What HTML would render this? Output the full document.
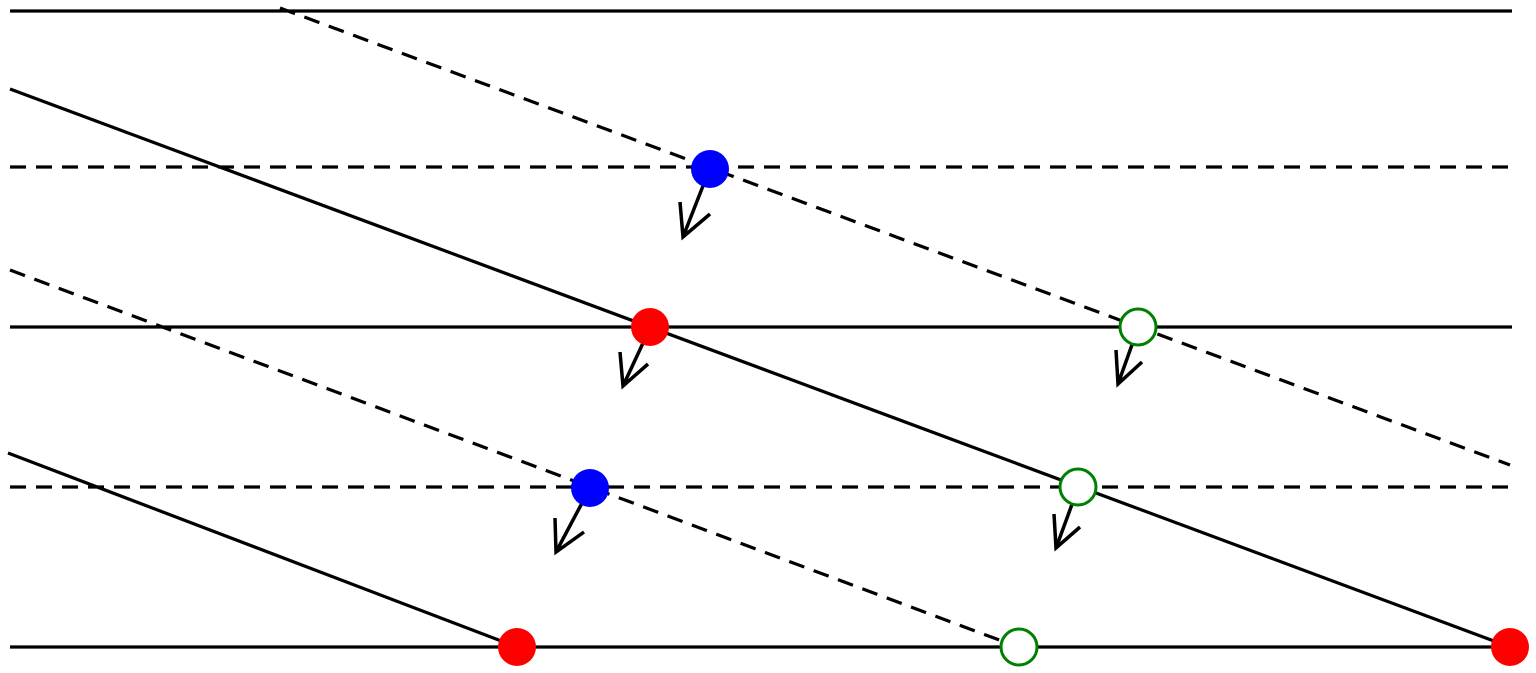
<!DOCTYPE html>
<html><head><style>body{margin:0;background:#fff}svg{display:block}</style></head><body>
<svg width="1536" height="673" viewBox="0 0 1536 673" xmlns="http://www.w3.org/2000/svg">
<g stroke="#000" stroke-width="3.2" fill="none">
<line x1="10" y1="11" x2="1512" y2="11"/>
<line x1="10" y1="327" x2="1512" y2="327"/>
<line x1="10" y1="647" x2="1512" y2="647"/>
<line x1="10" y1="89" x2="1510" y2="647"/>
<line x1="8" y1="453" x2="517" y2="647"/>
<g stroke-dasharray="16,10">
<line x1="10" y1="167" x2="1512" y2="167"/>
<line x1="10" y1="487" x2="1512" y2="487"/>
<line x1="280" y1="8" x2="1510" y2="465"/>
<line x1="10" y1="270" x2="1018" y2="647"/>
</g>
<g stroke-width="3.5">
<path d="M710,168 L683,237 M680,202 L683,237 L710,214"/>
<path d="M650,328 L623,386 M620,352 L623,386 L648,364"/>
<path d="M1138,328 L1118,384 M1116,350 L1118,384 L1142,362"/>
<path d="M590,488 L556,552 M555,518 L556,552 L584,532"/>
<path d="M1078,488 L1056,548 M1054,514 L1056,548 L1080,527"/>
</g>
</g>
<circle cx="710" cy="169" r="19" fill="#0000ff"/>
<circle cx="590" cy="488" r="19" fill="#0000ff"/>
<circle cx="650" cy="327" r="19" fill="#ff0000"/>
<circle cx="517" cy="647" r="19" fill="#ff0000"/>
<circle cx="1510" cy="647" r="19" fill="#ff0000"/>
<g fill="#fff" stroke="#008000" stroke-width="3">
<circle cx="1138" cy="327" r="18"/>
<circle cx="1078" cy="487" r="18"/>
<circle cx="1019" cy="647" r="18"/>
</g>
</svg>
</body></html>
